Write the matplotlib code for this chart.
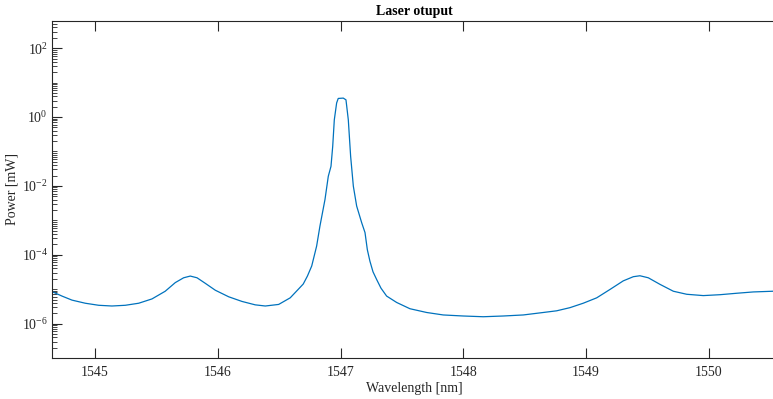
import matplotlib
matplotlib.use("Agg")
import matplotlib.pyplot as plt
from matplotlib.ticker import FixedLocator, LogLocator, LogFormatterMathtext, NullFormatter

# Measured laser output spectrum
wavelength_nm = [
    1544.650, 1544.731, 1544.813, 1544.921, 1545.030, 1545.138, 1545.247, 1545.356,
    1545.464, 1545.572, 1545.654, 1545.722, 1545.776, 1545.831, 1545.898, 1545.980,
    1546.089, 1546.197, 1546.305, 1546.387, 1546.496, 1546.590, 1546.659, 1546.696,
    1546.730, 1546.765, 1546.805, 1546.832, 1546.873, 1546.900, 1546.922, 1546.936,
    1546.949, 1546.968, 1546.981, 1547.022, 1547.044, 1547.063, 1547.082, 1547.104,
    1547.131, 1547.172, 1547.199, 1547.218, 1547.239, 1547.264, 1547.294, 1547.329,
    1547.375, 1547.457, 1547.565, 1547.701, 1547.836, 1547.999, 1548.162, 1548.325,
    1548.488, 1548.651, 1548.760, 1548.868, 1548.976, 1549.086, 1549.194, 1549.302,
    1549.384, 1549.438, 1549.506, 1549.601, 1549.710, 1549.819, 1549.954, 1550.090,
    1550.226, 1550.361, 1550.521,
]
power_mW = [
    8.5e-6, 6.3e-6, 4.8e-6, 3.9e-6, 3.4e-6, 3.24e-6, 3.4e-6, 3.9e-6,
    5.2e-6, 8.7e-6, 1.55e-5, 2.14e-5, 2.4e-5, 2.14e-5, 1.48e-5, 9.3e-6,
    6.0e-6, 4.4e-6, 3.5e-6, 3.24e-6, 3.6e-6, 5.6e-6, 1.02e-5, 1.41e-5,
    2.4e-5, 4.7e-5, 1.78e-4, 6.8e-4, 4.0e-3, 1.9e-2, 3.7e-2, 0.141,
    0.83, 2.57, 3.47, 3.55, 3.16, 0.83, 7.2e-2, 9.8e-3,
    2.6e-3, 8.5e-4, 4.4e-4, 1.4e-4, 6.5e-5, 3.2e-5, 1.9e-5, 1.07e-5,
    6.3e-6, 4.1e-6, 2.7e-6, 2.1e-6, 1.78e-6, 1.66e-6, 1.58e-6, 1.66e-6,
    1.78e-6, 2.1e-6, 2.35e-6, 2.9e-6, 3.9e-6, 5.6e-6, 9.8e-6, 1.74e-5,
    2.3e-5, 2.45e-5, 2.14e-5, 1.38e-5, 8.7e-6, 7.1e-6, 6.5e-6, 6.9e-6,
    7.6e-6, 8.3e-6, 8.7e-6,
]
x_ticks = [1545, 1546, 1547, 1548, 1549, 1550]
y_ticks = [1e-6, 1e-4, 1e-2, 1e0, 1e2]

plt.rcParams["font.family"] = ["Liberation Serif", "DejaVu Serif"]
plt.rcParams["mathtext.fontset"] = "stix"

axis_color = "#262626"
fig = plt.figure(figsize=(7.73, 3.99), dpi=100)
# the box runs off the right border of the figure
ax = fig.add_axes([52 / 773, 1 - 358 / 399, (776 - 52) / 773, (358 - 21) / 399])

ax.plot(wavelength_nm, power_mW, color="#0072BD", linewidth=0.9)
ax.set_yscale("log")
ax.set_xlim(1544.650, 1550.546)
ax.set_ylim(1e-7, 10 ** 2.79)

ax.xaxis.set_major_locator(FixedLocator(x_ticks))
ax.yaxis.set_major_locator(FixedLocator(y_ticks))
ax.yaxis.set_major_formatter(LogFormatterMathtext())
ax.yaxis.set_minor_locator(LogLocator(base=10, subs=range(1, 10), numticks=30))
ax.yaxis.set_minor_formatter(NullFormatter())

ax.spines["right"].set_visible(False)
for name in ("left", "top", "bottom"):
    ax.spines[name].set_color(axis_color)
    ax.spines[name].set_linewidth(0.8)
ax.tick_params(which="both", direction="in", top=True, right=False,
               colors=axis_color, labelsize=10)
ax.tick_params(which="major", length=7, width=0.8)
ax.tick_params(which="minor", length=3.5, width=0.6)
ax.tick_params(axis="x", pad=6)
ax.tick_params(axis="y", pad=3)

ax.set_title("Laser otuput", fontsize=10, fontweight="bold", color="black", pad=4)
ax.set_xlabel("Wavelength [nm]", fontsize=10, color=axis_color, labelpad=2)
ax.set_ylabel("Power [mW]", fontsize=10, color=axis_color, labelpad=2)

fig.savefig("out.png", dpi=100)
